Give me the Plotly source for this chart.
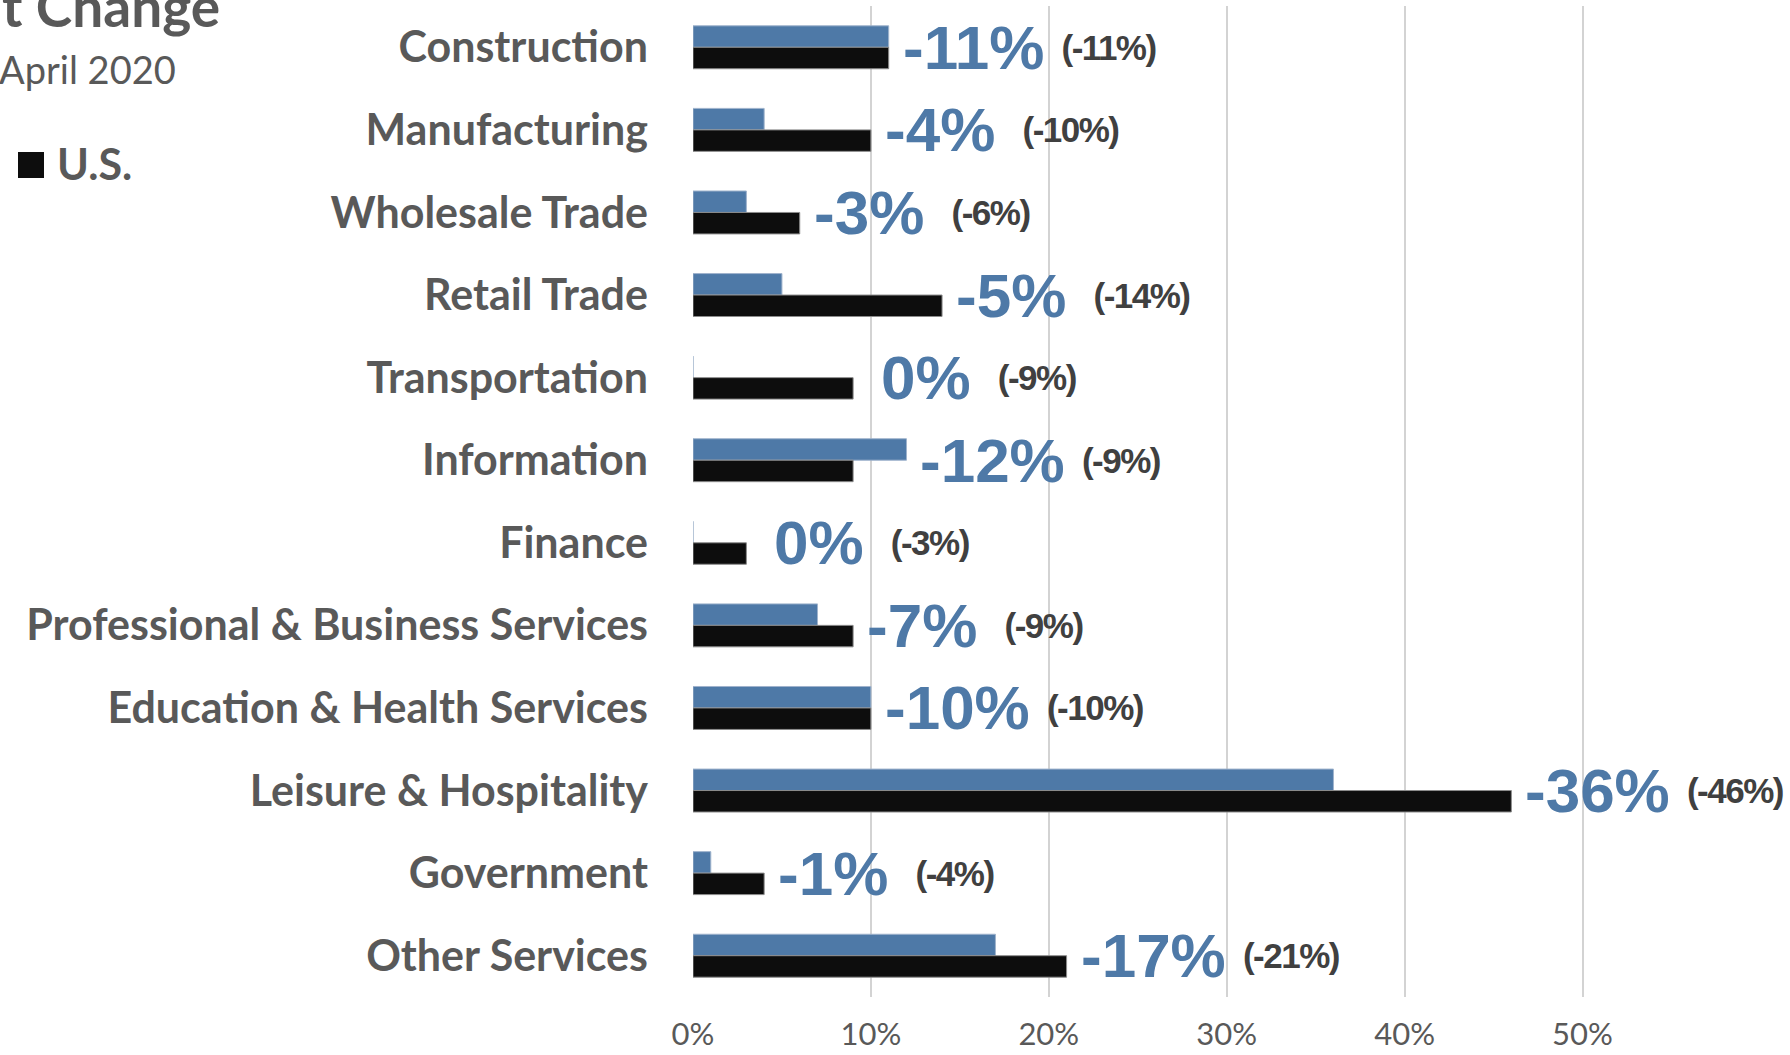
import plotly.graph_objects as go

# Employment change by industry, April 2020 (percent)
industries = [
    "Construction",
    "Manufacturing",
    "Wholesale Trade",
    "Retail Trade",
    "Transportation",
    "Information",
    "Finance",
    "Professional & Business Services",
    "Education & Health Services",
    "Leisure & Hospitality",
    "Government",
    "Other Services",
]
local_change = [-11, -4, -3, -5, 0, -12, 0, -7, -10, -36, -1, -17]
us_change = [-11, -10, -6, -14, -9, -9, -3, -9, -10, -46, -4, -21]
x_tick_values = [0, 0.1, 0.2, 0.3, 0.4, 0.5]
x_tick_labels = ["0%", "10%", "20%", "30%", "40%", "50%"]

BLUE = "#4E79A7"
BLACK = "#0D0D0D"
GRAY = "#595959"
DARK = "#404040"

W, H = 1790, 1055
ML, MR, MT, MB = 693, 0, 6, 58
PW, PH = W - ML - MR, H - MT - MB
X_MAX = PW / 1779.0  # 10% spans ~178 px


def px_x(px):
    return (px - ML) / PW


def px_y(py):
    return (H - MB - py) / PH


# bars show the size of the loss
local_loss = [abs(v) / 100 for v in local_change]
us_loss = [abs(v) / 100 for v in us_change]

fig = go.Figure()
fig.add_trace(go.Bar(
    y=industries, x=local_loss, orientation="h", name="Local",
    marker=dict(color=BLUE, line=dict(color="#9FB3CC", width=1)),
    showlegend=False,
))
fig.add_trace(go.Bar(
    y=industries, x=us_loss, orientation="h", name="U.S.",
    marker=dict(color=BLACK, line=dict(color="#8C8C8C", width=1)),
    showlegend=False,
))

small_style = (
    "font-family:'Liberation Sans',Arial;font-size:35px;"
    "letter-spacing:-1.5px;color:%s;baseline-shift:9px" % DARK
)
lead_style = "font-size:50px"
pad_style = "font-size:36px"
for name, lc, uc, ll, ul in zip(industries, local_change, us_change, local_loss, us_loss):
    big = f"{lc}%"
    lead = f"<span style=\"{lead_style}\">&nbsp;</span>" if lc == 0 else ""
    gap = f"<span style=\"{pad_style}\">&nbsp;</span>" if len(big) < 4 else ""
    fig.add_annotation(
        x=max(ll, ul), y=name, xref="x", yref="y",
        xanchor="left", yanchor="middle", xshift=12, showarrow=False,
        text=(f"{lead}<b>{big} </b>{gap}"
              f"<span style=\"{small_style}\"><b>({uc}%)</b></span>"),
        font=dict(family="Liberation Sans, Arial", size=62, color=BLUE),
    )

# title, subtitle and legend on the left
fig.add_annotation(
    x=px_x(0), y=px_y(41), xref="paper", yref="paper",
    xanchor="left", yanchor="bottom", showarrow=False,
    text="<b>t Change</b>", font=dict(family="Lato", size=55, color=GRAY),
)
fig.add_annotation(
    x=px_x(-3), y=px_y(69), xref="paper", yref="paper",
    xanchor="left", yanchor="middle", showarrow=False,
    text="April 2020", font=dict(family="Lato", size=38, color=GRAY),
)
fig.add_shape(
    type="rect", xref="paper", yref="paper",
    x0=px_x(18), x1=px_x(44), y0=px_y(178), y1=px_y(152),
    fillcolor=BLACK, line=dict(width=0),
)
fig.add_annotation(
    x=px_x(55), y=px_y(164), xref="paper", yref="paper",
    xanchor="left", yanchor="middle", showarrow=False,
    text="<b>U.S.</b>", font=dict(family="Lato", size=43, color=GRAY),
)

fig.update_layout(
    width=W, height=H,
    margin=dict(l=ML, r=MR, t=MT, b=MB, pad=0, autoexpand=False),
    paper_bgcolor="white", plot_bgcolor="white",
    barmode="group", bargap=0.48, bargroupgap=0,
    showlegend=False,
    xaxis=dict(
        range=[0, X_MAX], tickvals=x_tick_values, ticktext=x_tick_labels,
        showgrid=True, gridcolor="#D3D3D3", gridwidth=2, zeroline=False,
        showline=False, ticks="", ticklabelstandoff=16, automargin=False,
        tickfont=dict(family="Lato", size=31, color=GRAY),
    ),
    yaxis=dict(
        type="category", autorange="reversed", showgrid=False,
        zeroline=False, showline=False, ticks="", ticklabelstandoff=44,
        automargin=False,
        tickfont=dict(family="Lato", size=43, color=GRAY, weight="bold"),
    ),
)

fig.write_html("out.html")
